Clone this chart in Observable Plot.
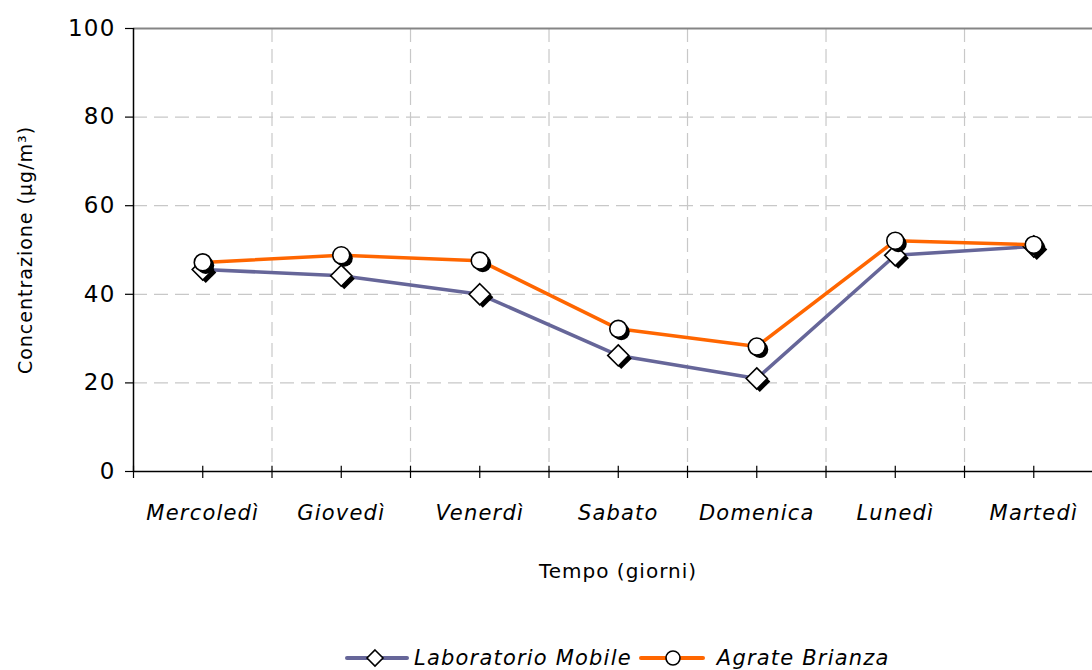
<!DOCTYPE html>
<html>
<head>
<meta charset="utf-8">
<script src="https://cdn.jsdelivr.net/npm/d3@7"></script>
<script src="https://cdn.jsdelivr.net/npm/@observablehq/plot@0.6"></script>
<style>
  html, body { margin: 0; padding: 0; background: #fff; }
  #wrap { width: 1092px; position: relative; }
  svg { display: block; }
  #legend { height: 30px; padding-top: 8px; display: flex; align-items: center; font-family: "DejaVu Sans", sans-serif; font-style: italic; font-size: 21px; letter-spacing: 1.2px; color: #000; line-height: 24px; }
  #legend .item { display: flex; align-items: center; }
</style>
</head>
<body>
<div id="wrap"></div>
<script>
// ---- data ----
const days = ["Mercoledì", "Giovedì", "Venerdì", "Sabato", "Domenica", "Lunedì", "Martedì"];
const labMobile = [45.6, 44.2, 40.0, 26.2, 21.0, 48.8, 50.8];
const agrate = [47.2, 48.8, 47.6, 32.2, 28.2, 52.1, 51.2];
const yTicks = [0, 20, 40, 60, 80, 100];
const seriesNames = ["Laboratorio Mobile", "Agrate Brianza"];
const colors = ["#666699", "#FF6600"];
const yTitle = "Concentrazione (µg/m³)";
const xTitle = "Tempo (giorni)";

const labRows = days.map((d, i) => ({i, day: d, v: labMobile[i]}));
const agrRows = days.map((d, i) => ({i, day: d, v: agrate[i]}));
const halves = d3.range(-0.5, 6.01, 0.5);
const bounds = d3.range(0.5, 5.51, 1);

const H = 635;
const chart = Plot.plot({
  width: 1092,
  height: H,
  marginLeft: 133,
  marginRight: 0,
  marginTop: 28,
  marginBottom: H - 471,
  style: {fontFamily: "DejaVu Sans, sans-serif", fontSize: "21px", background: "#fff", overflow: "visible"},
  x: {type: "linear", domain: [-0.5, 6.424]},
  y: {domain: [0, 100]},
  marks: [
    Plot.gridY([20, 40, 60, 80], {stroke: "#c8c8c8", strokeOpacity: 1, strokeWidth: 1.2, strokeDasharray: "14,7"}),
    Plot.gridX(bounds, {stroke: "#c8c8c8", strokeOpacity: 1, strokeWidth: 1.2, strokeDasharray: "14,7"}),
    Plot.ruleY([100], {stroke: "#858585", strokeWidth: 2}),
    Plot.axisY({ticks: yTicks, tickSize: 8, tickPadding: 10, fontSize: 23, stroke: "#000", strokeWidth: 1.2, label: null, fill: "#000"}),
    Plot.axisX({ticks: halves, tickSize: 7, tickPadding: 27, fontSize: 21, fontStyle: "italic", label: null, fill: "#000", strokeWidth: 1.2,
      tickFormat: d => Number.isInteger(d) ? days[d] : ""}),
    Plot.ruleX(halves, {x: d => d, y1: 0, y2: 1.2, stroke: "#000", strokeWidth: 1.2}),
    Plot.ruleX([-0.5], {stroke: "#000", strokeWidth: 1.5}),
    Plot.ruleY([0], {stroke: "#000", strokeWidth: 1.5}),
    Plot.text([yTitle], {frameAnchor: "left", textAnchor: "middle", rotate: -90, dx: -108, fontSize: 19, fill: "#000"}),
    Plot.text([xTitle], {frameAnchor: "bottom", dy: 106, dx: 5, fontSize: 20, fill: "#000"}),
    // Laboratorio Mobile
    Plot.line(labRows, {x: "i", y: "v", stroke: colors[0], strokeWidth: 3.5}),
    Plot.dot(labRows, {x: "i", y: "v", symbol: "diamond2", r: 9.5, fill: "#000", dx: 3, dy: 3}),
    Plot.dot(labRows, {x: "i", y: "v", symbol: "diamond2", r: 9.5, fill: "#fff", stroke: "#000", strokeWidth: 1.6}),
    // Agrate Brianza
    Plot.line(agrRows, {x: "i", y: "v", stroke: colors[1], strokeWidth: 3.5}),
    Plot.dot(agrRows, {x: "i", y: "v", symbol: "circle", r: 8.5, fill: "#000", dx: 3, dy: 3}),
    Plot.dot(agrRows, {x: "i", y: "v", symbol: "circle", r: 8.5, fill: "#fff", stroke: "#000", strokeWidth: 1.6})
  ]
});
// letter spacing to mimic the wider original typeface
chart.querySelectorAll("text").forEach(t => {
  const s = t.textContent;
  if (days.includes(s)) t.style.letterSpacing = "1.2px";
  else if (/^\d+$/.test(s)) t.style.letterSpacing = "1.2px";
  else if (s === yTitle) t.style.letterSpacing = "1px";
  else if (s === xTitle) t.style.letterSpacing = "1px";
});
document.getElementById("wrap").appendChild(chart);

// legend
const legend = document.createElement("div");
legend.id = "legend";
function item(name, color, sym, ml, gap) {
  const el = document.createElement("div");
  el.className = "item";
  el.style.marginLeft = ml + "px";
  const marker = sym === "diamond"
    ? `<path d="M30,2 L38,10 L30,18 L22,10 Z" fill="#fff" stroke="#000" stroke-width="1.6"/>`
    : `<circle cx="34" cy="10" r="7" fill="#fff" stroke="#000" stroke-width="1.6"/>`;
  const w = sym === "diamond" ? 64 : 66;
  el.innerHTML = `<svg width="${w}" height="20" style="margin-right:${gap}px"><line x1="2" x2="${w - 2}" y1="10" y2="10" stroke="${color}" stroke-width="4" stroke-linecap="round"/>${marker}</svg><span>${name}</span>`;
  return el;
}
legend.appendChild(item(seriesNames[0], colors[0], "diamond", 345, 5));
legend.appendChild(item(seriesNames[1], colors[1], "circle", 7, 12));
document.getElementById("wrap").appendChild(legend);
</script>
</body>
</html>
